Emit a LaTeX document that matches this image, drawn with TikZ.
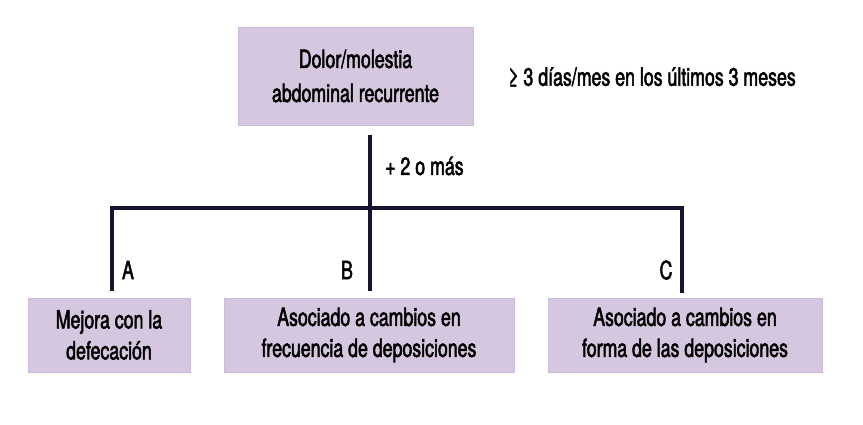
\documentclass[tikz,border=0pt]{standalone}
\usepackage{fontspec}
\setmainfont[FakeStretch=0.71,FakeBold=2]{TeX Gyre Heros}
\begin{document}
\begin{tikzpicture}[x=1pt,y=-1pt,
  boxst/.style={fill=boxfill,draw=boxedge,line width=0.6pt,inner sep=0pt,align=center,
    font=\fontsize{25}{34}\selectfont},
  boxsm/.style={boxst,font=\fontsize{25}{31}\selectfont},
  lbl/.style={font=\fontsize{25}{28}\selectfont,inner sep=0pt},
  conn/.style={draw=linecol,line width=3.8pt}]
\definecolor{boxfill}{HTML}{D6C7E0}
\definecolor{boxedge}{HTML}{CDBBD9}
\definecolor{linecol}{HTML}{1A1230}
\useasboundingbox (0,0) rectangle (863,425);
\node[boxst,minimum width=235pt,minimum height=98pt] (top) at (355.5,76) {Dolor/molestia\\abdominal recurrente};
\node[lbl,anchor=west] (crit) at (508,77) {≥ 3 días/mes en los últimos 3 meses};
\node[boxsm,minimum width=162pt,minimum height=74pt] (a) at (109,335) {Mejora con la\\defecación};
\node[boxsm,minimum width=290pt,minimum height=74pt] (b) at (369,335) {Asociado a cambios en\\frecuencia de deposiciones};
\node[boxsm,minimum width=274pt,minimum height=74pt] (c) at (685,335) {Asociado a cambios en\\forma de las deposiciones};
\coordinate (hub) at (370,208);
\coordinate (ltop) at (112,208);
\coordinate (rtop) at (682,208);
\coordinate (abot) at (112,291);
\coordinate (bbot) at (370,291);
\coordinate (cbot) at (682,293);
\coordinate (stemtop) at (370,135);
\draw[conn] (stemtop) -- (bbot);
\draw[conn,line join=miter] (abot) -- (ltop) -- (rtop) -- (cbot);
\node[lbl,anchor=west] (more) at (385,166) {+ 2 o más};
\node[lbl] (la) at (128,270) {A};
\node[lbl] (lb) at (347,270) {B};
\node[lbl] (lc) at (666,270) {C};
\end{tikzpicture}
\end{document}
